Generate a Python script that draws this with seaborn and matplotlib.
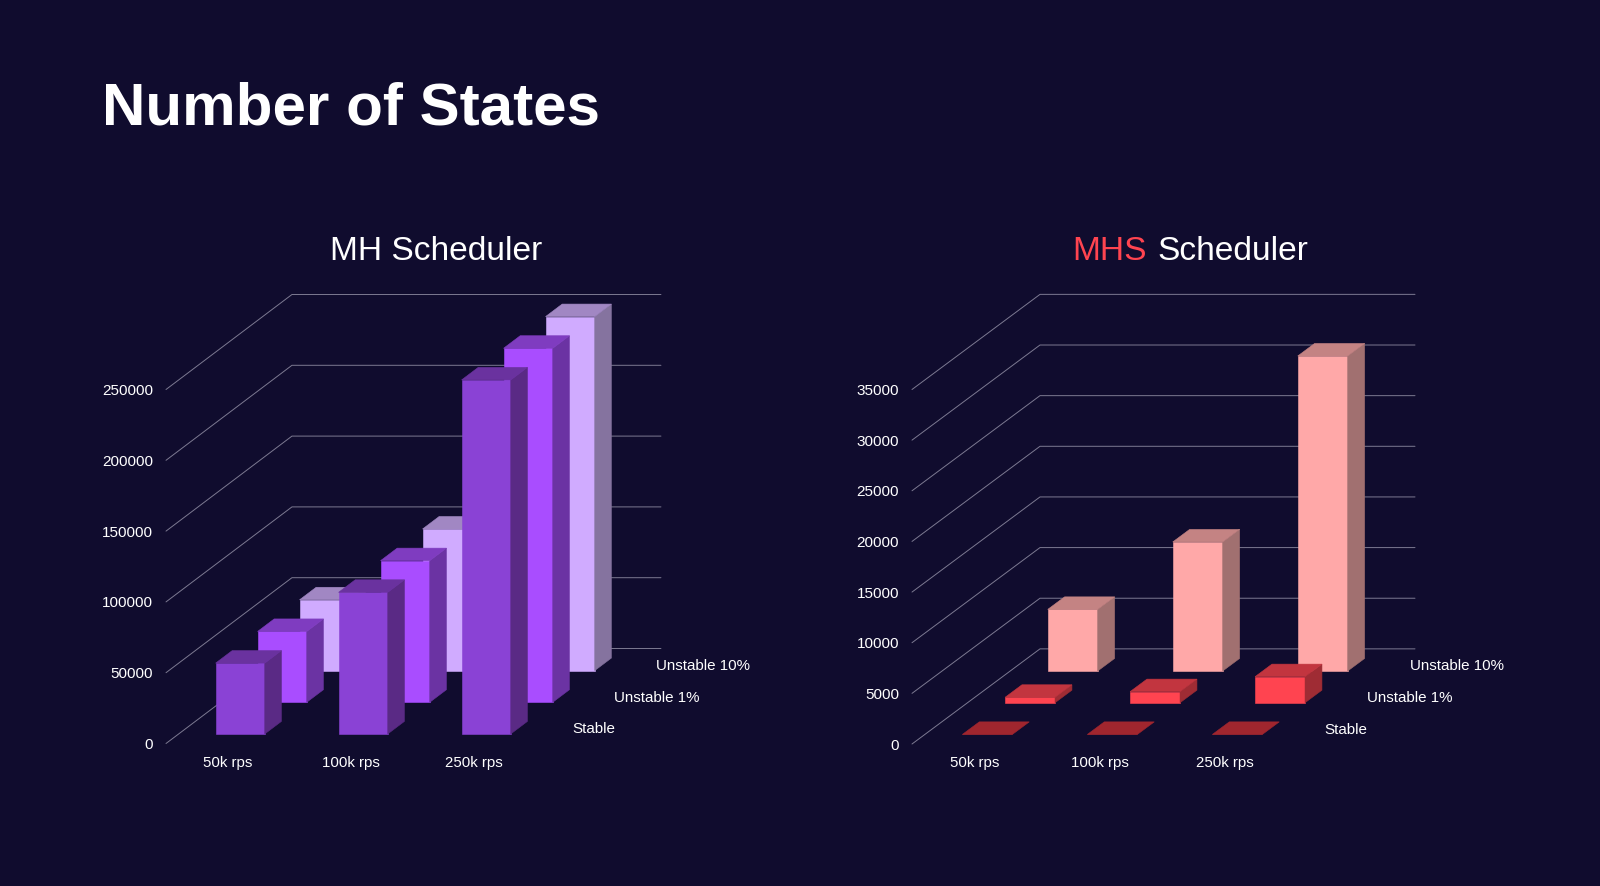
import matplotlib
matplotlib.use("Agg")
import matplotlib.pyplot as plt
from matplotlib.patches import Polygon
import seaborn as sns

# ---- data ----
categories = ["50k rps", "100k rps", "250k rps"]
series_names = ["Stable", "Unstable 1%", "Unstable 10%"]

mh_stable = [50000, 100000, 250000]
mh_unstable_1 = [50000, 100000, 250000]
mh_unstable_10 = [50000, 100000, 250000]
mh_ticks = [0, 50000, 100000, 150000, 200000, 250000]

mhs_stable = [0, 0, 0]
mhs_unstable_1 = [530, 1090, 2570]
mhs_unstable_10 = [6080, 12740, 31100]
mhs_ticks = [0, 5000, 10000, 15000, 20000, 25000, 30000, 35000]

# (front, top, side) per series
mh_colors = [("#8a42d5", "#6a329f", "#5a2a85"),
             ("#a94dff", "#7f3cc0", "#6b33a3"),
             ("#d0abff", "#a187c3", "#85739f")]
mhs_colors = [("#a0262e", "#a0262e", "#a0262e"),
              ("#ff4450", "#c2353f", "#9f2c34"),
              ("#ffa8a8", "#c48383", "#a17070")]

BG = "#100c2e"
GRID = "#7d7a92"
W, H = 1600, 886

sns.set_theme(style="white", rc={"figure.facecolor": BG, "savefig.facecolor": BG})
plt.rcParams["font.family"] = ["Liberation Sans", "DejaVu Sans"]

fig = plt.figure(figsize=(W / 100, H / 100), dpi=100)

WALL_DX = 1.024          # wall depth in category units
BAR_DEPTH = 0.132        # bar depth as a fraction of the wall depth
BAR_WIDTH = 0.4


def panel(box, series, colors, ticks):
    left, right, bottom, top = box
    ax = fig.add_axes([left / W, 1 - bottom / H, (right - left) / W, (bottom - top) / H])
    ymax = ticks[-1]
    wall_dy = (95 / 354) * ymax

    def project(x, d, v):
        return x + d * WALL_DX, v + d * wall_dy

    for v in ticks:
        pts = [project(-0.5, 0, v), project(-0.5, 1, v), project(2.5, 1, v)]
        ax.plot([p[0] for p in pts], [p[1] for p in pts], color=GRID, lw=0.7,
                zorder=0.5, clip_on=False, solid_joinstyle="miter")

    # back series first so that nearer bars cover them
    for idx in reversed(range(3)):
        values = series[idx]
        front, top_c, side_c = colors[idx]
        d0 = (idx + 0.5) / 3 - BAR_DEPTH / 2
        d1 = d0 + BAR_DEPTH
        n_before = len(ax.patches)
        sns.barplot(x=categories, y=values, order=categories, color=front, saturation=1,
                    width=BAR_WIDTH, ax=ax, linewidth=0.4, edgecolor=front)
        new_bars = list(ax.patches)[n_before:]
        for bar, v in zip(new_bars, values):
            x0 = bar.get_x()
            x1 = x0 + bar.get_width()
            sx, sy = project(x0, d0, 0)
            bar.set_x(sx)
            bar.set_y(sy)
            bar.set_clip_on(False)
            side = [project(x1, d0, 0), project(x1, d1, 0), project(x1, d1, v), project(x1, d0, v)]
            roof = [project(x0, d0, v), project(x1, d0, v), project(x1, d1, v), project(x0, d1, v)]
            if v > 0:
                ax.add_patch(Polygon(side, closed=True, fc=side_c, ec=side_c, lw=0.4, clip_on=False))
            ax.add_patch(Polygon(roof, closed=True, fc=top_c, ec=top_c, lw=0.4, clip_on=False))

        lx, ly = project(2.5, (idx + 0.5) / 3, 0)
        ax.annotate(series_names[idx], xy=(lx, ly), xycoords="data",
                    xytext=(16, -1.5), textcoords="offset pixels",
                    color="white", fontsize=10.9, va="center", ha="left",
                    annotation_clip=False)

    ax.set_xlim(-0.5, 2.5)
    ax.set_ylim(0, ymax)
    ax.set_xlabel("")
    ax.set_ylabel("")
    ax.set_xticks(range(3), categories)
    ax.set_yticks(ticks, [str(t) for t in ticks])
    ax.tick_params(axis="y", length=0, pad=9.4, labelsize=11, labelcolor="white")
    ax.tick_params(axis="x", length=0, pad=9, labelsize=10.8, labelcolor="white")
    ax.set_facecolor("none")
    sns.despine(ax=ax, left=True, bottom=True)
    return ax


panel((166, 535, 743.5, 389.5), [mh_stable, mh_unstable_1, mh_unstable_10], mh_colors, mh_ticks)
panel((912, 1287, 744, 389.5), [mhs_stable, mhs_unstable_1, mhs_unstable_10], mhs_colors, mhs_ticks)

fig.text(102 / W, 1 - 109 / H, "Number of States", color="white", fontsize=43.3,
         fontweight="bold", va="center", ha="left")
fig.text(330 / W, 1 - 251 / H, "MH Scheduler", color="white", fontsize=24.1, va="center", ha="left")
fig.text(1072 / W, 1 - 251 / H, "MHS", color="#ff4450", fontsize=24.1, va="center", ha="left")
fig.text(1157 / W, 1 - 251 / H, "Scheduler", color="white", fontsize=24.1, va="center", ha="left")

fig.savefig("out.png", dpi=100, facecolor=BG)
